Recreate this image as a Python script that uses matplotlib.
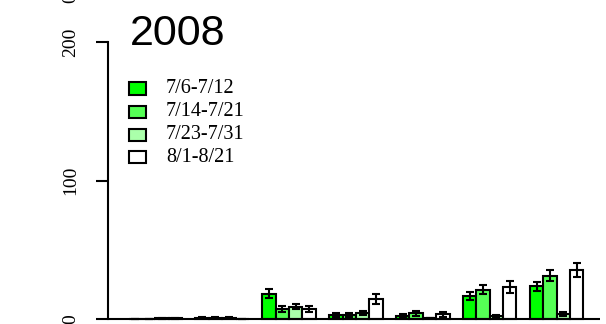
import matplotlib
matplotlib.use("Agg")
import matplotlib.pyplot as plt
import numpy as np
from matplotlib.patches import Rectangle

# Sampling periods (legend) and their bar colours
periods = ["7/6-7/12", "7/14-7/21", "7/23-7/31", "8/1-8/21"]
colors = ["#00FF00", "#55FF55", "#AAFFAA", "#FFFFFF"]

# Mean counts per group (7 groups) for each period
means_p1 = [0.1, 1.0, 18.3, 2.7, 2.4, 16.4, 23.6]
means_p2 = [0.2, 0.8, 7.2, 2.9, 4.1, 21.2, 31.3]
means_p3 = [0.4, 0.8, 8.9, 4.3, 0.7, 1.9, 3.4]
means_p4 = [0.4, 0.1, 7.0, 14.2, 3.4, 23.1, 35.6]

# Standard errors
se_p1 = [0.1, 0.5, 3.2, 1.4, 1.3, 2.9, 3.2]
se_p2 = [0.1, 0.4, 2.3, 1.7, 2.0, 3.2, 4.0]
se_p3 = [0.2, 0.4, 1.9, 1.3, 0.3, 0.8, 1.3]
se_p4 = [0.2, 0.1, 2.3, 3.7, 2.0, 4.1, 4.9]

title = "2008"
yticks = [0, 100, 200]

means = [means_p1, means_p2, means_p3, means_p4]
ses = [se_p1, se_p2, se_p3, se_p4]

W, H = 606, 324
fig = plt.figure(figsize=(W / 100, H / 100), dpi=100)

# axes placed in pixel terms: y-axis at x=108.3, 0 at y=319, 200 at y=42.3
ax_left, ax_bottom_px, ax_top_px = 108.3, 319.0, 42.3
ax = fig.add_axes([ax_left / W, (H - ax_bottom_px) / H,
                   (W - ax_left) / W, (ax_bottom_px - ax_top_px) / H])
ax.set_ylim(0, 200)
ax.set_xlim(-0.51, 36.69)
ax.axis("off")

n_groups = len(means_p1)
serif = ["Liberation Serif", "DejaVu Serif"]

# bars side by side, one bar-width gap before each group
for j in range(4):
    xs = np.array([5 * i + 1 + j for i in range(n_groups)], dtype=float)
    ax.bar(xs, means[j], width=1.0, align="edge", color=colors[j],
           edgecolor="black", linewidth=1.5, zorder=2, clip_on=False)
    ax.errorbar(xs + 0.5, means[j], yerr=ses[j], fmt="none", ecolor="black",
                elinewidth=1.5, capsize=3.2, capthick=1.5, zorder=3,
                clip_on=False)

# baseline
ax.plot([-0.51, 36.24], [0, 0], color="black", lw=1.5, zorder=4,
        clip_on=False, solid_capstyle="butt")

# left axis with ticks
ax.plot([-0.51, -0.51], [0, 200], color="black", lw=1.5, zorder=4,
        clip_on=False, solid_capstyle="projecting")
tick_len = (108.3 - 95.7) / 13.38
for t in yticks:
    ax.plot([-0.51 - tick_len, -0.51], [t, t], color="black", lw=1.5,
            clip_on=False, solid_capstyle="butt")
    fig.text(71 / W, (H - (319.0 - t * (319.0 - 42.3) / 200)) / H, str(t),
             rotation=90, ha="center", va="center", fontsize=14,
             family=serif)

# partial tick label from the panel above
fig.text(71 / W, (H + 1.6) / H, "0", rotation=90, ha="center",
         va="center", fontsize=14, family=serif)

# title
fig.text(130 / W, (H - 45) / H, title, ha="left", va="baseline",
         fontsize=31, family=["Liberation Sans", "DejaVu Sans"])

# legend
row_centers = [88.5, 112, 134.5, 157]
for lab, col, yc in zip(periods, colors, row_centers):
    fig.patches.append(Rectangle((128.5 / W, (H - yc - 6) / H), 17.5 / W,
                                 12 / H, transform=fig.transFigure,
                                 facecolor=col, edgecolor="black",
                                 linewidth=1.5))
    fig.text(166 / W, (H - yc) / H, lab, ha="left", va="center",
             fontsize=14.5, family=serif)

fig.savefig("out.png", dpi=100)
